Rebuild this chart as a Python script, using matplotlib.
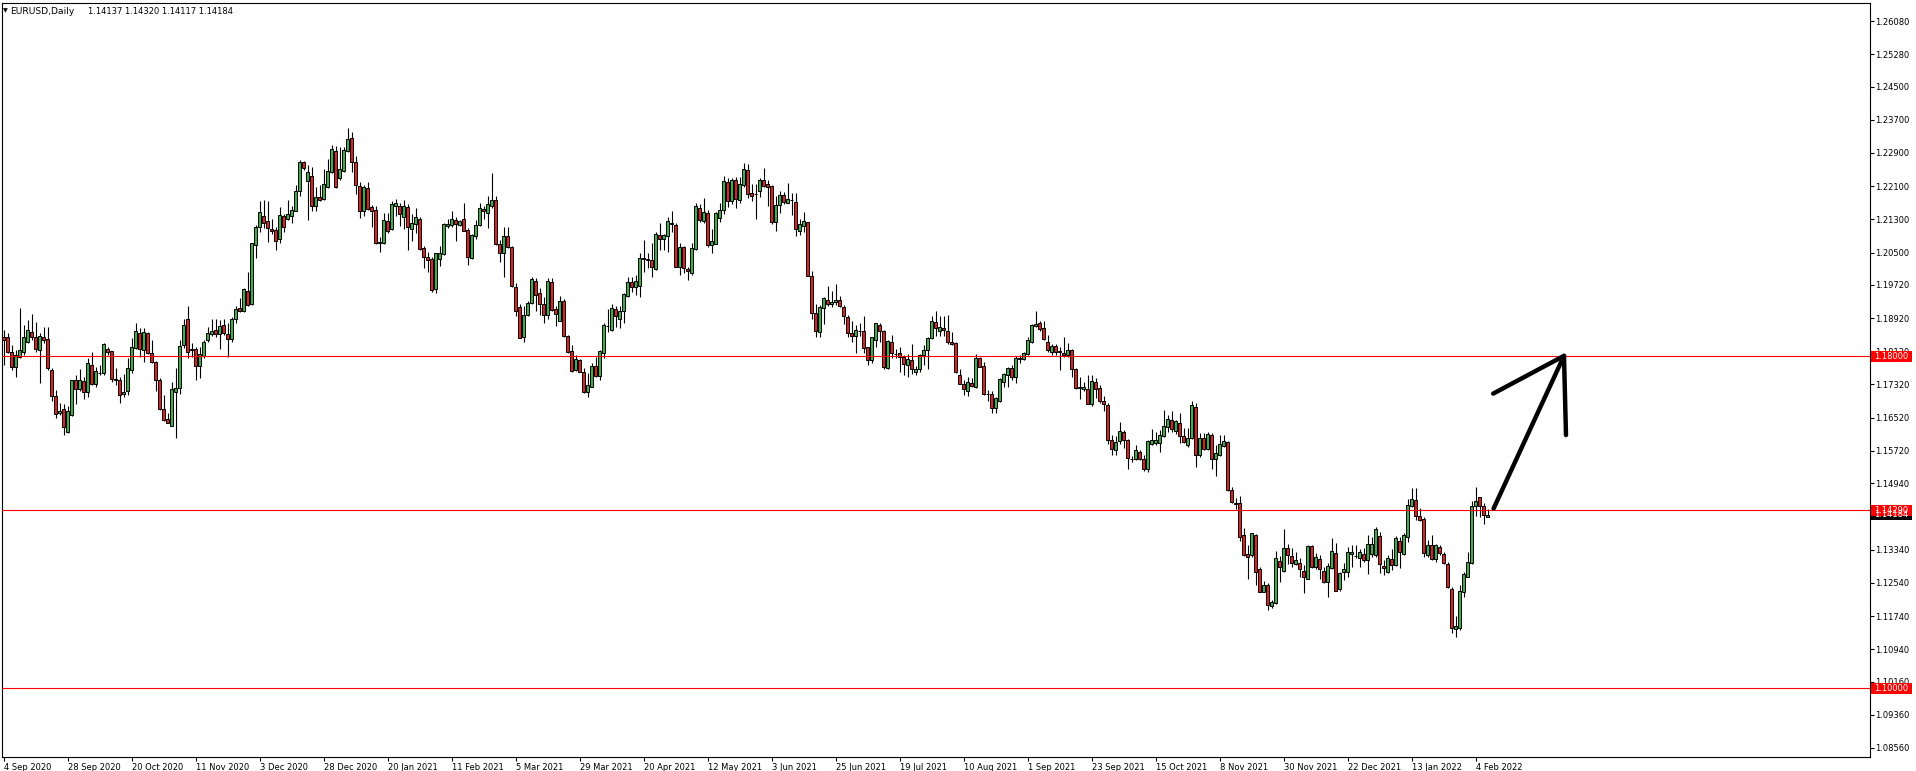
import matplotlib

matplotlib.use("Agg")
import matplotlib.pyplot as plt
from matplotlib.patches import Rectangle
from matplotlib.transforms import blended_transform_factory
import numpy as np
import pandas as pd


OUTPUT_PATH = "out.png"

SYMBOL = "EURUSD,Daily"
LAST_QUOTE = "1.14137 1.14320 1.14117 1.14184"
FIRST_DAY = "2020-09-04"
HOLIDAYS = ["2020-12-25", "2021-01-01"]

OPEN = [
    1.1847, 1.1846, 1.1811, 1.1773, 1.1799, 1.1810, 1.1835, 1.1858, 1.1847, 1.1814,
    1.1846, 1.1841, 1.1767, 1.1705, 1.1663, 1.1672, 1.1618, 1.1659, 1.1742, 1.1720,
    1.1740, 1.1713, 1.1778, 1.1732, 1.1759, 1.1759, 1.1817, 1.1813, 1.1746, 1.1744,
    1.1708, 1.1717, 1.1766, 1.1821, 1.1855, 1.1815, 1.1856, 1.1807, 1.1786, 1.1744,
    1.1674, 1.1649, 1.1633, 1.1713, 1.1723, 1.1826, 1.1889, 1.1818, 1.1817, 1.1777,
    1.1801, 1.1838, 1.1853, 1.1863, 1.1853, 1.1875, 1.1853, 1.1841, 1.1891, 1.1916,
    1.1910, 1.1957, 1.1925, 1.2069, 1.2112, 1.2137, 1.2125, 1.2107, 1.2104, 1.2082,
    1.2137, 1.2132, 1.2139, 1.2151, 1.2198, 1.2267, 1.2223, 1.2235, 1.2161, 1.2183,
    1.2179, 1.2209, 1.2244, 1.2294, 1.2229, 1.2247, 1.2295, 1.2325, 1.2267, 1.2210,
    1.2149, 1.2205, 1.2159, 1.2153, 1.2074, 1.2072, 1.2126, 1.2106, 1.2161, 1.2162,
    1.2135, 1.2159, 1.2106, 1.2118, 1.2130, 1.2060, 1.2040, 1.2034, 1.1961, 1.2035,
    1.2046, 1.2115, 1.2116, 1.2128, 1.2116, 1.2130, 1.2104, 1.2038, 1.2090, 1.2116,
    1.2154, 1.2145, 1.2161, 1.2176, 1.2070, 1.2048, 1.2090, 1.2063, 1.1967, 1.1919,
    1.1846, 1.1899, 1.1928, 1.1982, 1.1952, 1.1925, 1.1900, 1.1978, 1.1913, 1.1886,
    1.1933, 1.1850, 1.1812, 1.1767, 1.1791, 1.1762, 1.1715, 1.1727, 1.1776, 1.1752,
    1.1809, 1.1874, 1.1864, 1.1914, 1.1891, 1.1908, 1.1946, 1.1978, 1.1966, 1.1970,
    1.2036, 1.2034, 1.2032, 1.2010, 1.2092, 1.2083, 1.2089, 1.2121, 1.2116, 1.2016,
    1.2063, 1.2010, 1.2000, 1.2058, 1.2158, 1.2127, 1.2145, 1.2067, 1.2071, 1.2134,
    1.2152, 1.2219, 1.2173, 1.2224, 1.2177, 1.2212, 1.2248, 1.2193, 1.2190, 1.2198,
    1.2224, 1.2215, 1.2210, 1.2124, 1.2164, 1.2189, 1.2170, 1.2176, 1.2171, 1.2103,
    1.2115, 1.2123, 1.1994, 1.1904, 1.1858, 1.1916, 1.1936, 1.1925, 1.1930, 1.1935,
    1.1919, 1.1894, 1.1856, 1.1848, 1.1860, 1.1861, 1.1822, 1.1790, 1.1838, 1.1876,
    1.1861, 1.1772, 1.1834, 1.1806, 1.1808, 1.1798, 1.1778, 1.1791, 1.1761, 1.1769,
    1.1802, 1.1814, 1.1843, 1.1882, 1.1862, 1.1868, 1.1861, 1.1835, 1.1831, 1.1754,
    1.1733, 1.1717, 1.1736, 1.1725, 1.1795, 1.1777, 1.1708, 1.1708, 1.1675, 1.1691,
    1.1739, 1.1754, 1.1771, 1.1751, 1.1793, 1.1794, 1.1805, 1.1835, 1.1874, 1.1880,
    1.1868, 1.1834, 1.1811, 1.1824, 1.1813, 1.1808, 1.1803, 1.1815, 1.1769, 1.1727,
    1.1721, 1.1721, 1.1684, 1.1737, 1.1724, 1.1691, 1.1683, 1.1597, 1.1573, 1.1596,
    1.1617, 1.1597, 1.1552, 1.1553, 1.1569, 1.1552, 1.1529, 1.1588, 1.1592, 1.1592,
    1.1609, 1.1629, 1.1646, 1.1620, 1.1638, 1.1608, 1.1585, 1.1602, 1.1677, 1.1561,
    1.1602, 1.1577, 1.1610, 1.1552, 1.1561, 1.1584, 1.1593, 1.1477, 1.1447, 1.1446,
    1.1369, 1.1324, 1.1320, 1.1370, 1.1287, 1.1233, 1.1248, 1.1197, 1.1205, 1.1307,
    1.1283, 1.1337, 1.1319, 1.1300, 1.1302, 1.1282, 1.1264, 1.1343, 1.1292, 1.1311,
    1.1283, 1.1255, 1.1289, 1.1325, 1.1238, 1.1280, 1.1279, 1.1323, 1.1319, 1.1313,
    1.1323, 1.1308, 1.1324, 1.1321, 1.1367, 1.1295, 1.1281, 1.1311, 1.1297, 1.1355,
    1.1323, 1.1365, 1.1439, 1.1454, 1.1414, 1.1407, 1.1320, 1.1344, 1.1311, 1.1340,
    1.1324, 1.1300, 1.1239, 1.1142, 1.1145, 1.1233, 1.1269, 1.1301, 1.1439, 1.1460,
    1.1439, 1.14137,
]

HIGH = [
    1.1863, 1.1855, 1.1826, 1.1815, 1.1916, 1.1875, 1.1887, 1.1902, 1.1882, 1.1855,
    1.1870, 1.1870, 1.1771, 1.1719, 1.1687, 1.1685, 1.1679, 1.1744, 1.1755, 1.1769,
    1.1749, 1.1797, 1.1811, 1.1775, 1.1779, 1.1833, 1.1823, 1.1813, 1.1771, 1.1751,
    1.1757, 1.1795, 1.1843, 1.1879, 1.1867, 1.1867, 1.1859, 1.1839, 1.1789, 1.1747,
    1.1707, 1.1663, 1.1739, 1.1771, 1.1839, 1.1891, 1.1920, 1.1831, 1.1823, 1.1823,
    1.1839, 1.1870, 1.1891, 1.1891, 1.1887, 1.1891, 1.1880, 1.1895, 1.1920, 1.1940,
    1.1964, 1.2002, 1.2074, 1.2116, 1.2174, 1.2177, 1.2173, 1.2130, 1.2112, 1.2159,
    1.2143, 1.2177, 1.2161, 1.2213, 1.2273, 1.2271, 1.2261, 1.2257, 1.2209, 1.2213,
    1.2251, 1.2275, 1.2309, 1.2307, 1.2305, 1.2305, 1.2349, 1.2341, 1.2283, 1.2221,
    1.2213, 1.2221, 1.2165, 1.2161, 1.2088, 1.2145, 1.2145, 1.2173, 1.2179, 1.2170,
    1.2177, 1.2167, 1.2143, 1.2157, 1.2135, 1.2066, 1.2052, 1.2040, 1.2050, 1.2066,
    1.2120, 1.2132, 1.2151, 1.2136, 1.2128, 1.2170, 1.2108, 1.2095, 1.2128, 1.2170,
    1.2162, 1.2186, 1.2241, 1.2186, 1.2080, 1.2112, 1.2112, 1.2066, 1.1976, 1.1925,
    1.1920, 1.1934, 1.1990, 1.1988, 1.1964, 1.1944, 1.1988, 1.1988, 1.1920, 1.1945,
    1.1937, 1.1851, 1.1827, 1.1803, 1.1793, 1.1771, 1.1759, 1.1783, 1.1799, 1.1815,
    1.1880, 1.1913, 1.1925, 1.1920, 1.1920, 1.1953, 1.1990, 1.1992, 1.1996, 1.2048,
    1.2080, 1.2048, 1.2072, 1.2100, 1.2120, 1.2095, 1.2136, 1.2150, 1.2120, 1.2074,
    1.2066, 1.2014, 1.2074, 1.2170, 1.2168, 1.2181, 1.2153, 1.2107, 1.2147, 1.2169,
    1.2234, 1.2229, 1.2230, 1.2231, 1.2231, 1.2265, 1.2263, 1.2215, 1.2215, 1.2229,
    1.2253, 1.2226, 1.2213, 1.2186, 1.2199, 1.2197, 1.2217, 1.2193, 1.2193, 1.2131,
    1.2148, 1.2124, 1.2006, 1.1926, 1.1924, 1.1942, 1.1969, 1.1957, 1.1974, 1.1945,
    1.1924, 1.1900, 1.1885, 1.1876, 1.1880, 1.1896, 1.1823, 1.1846, 1.1881, 1.1880,
    1.1864, 1.1839, 1.1851, 1.1818, 1.1823, 1.1802, 1.1805, 1.1830, 1.1777, 1.1805,
    1.1827, 1.1847, 1.1896, 1.1909, 1.1896, 1.1896, 1.1900, 1.1858, 1.1835, 1.1769,
    1.1743, 1.1751, 1.1747, 1.1806, 1.1799, 1.1786, 1.1719, 1.1717, 1.1703, 1.1747,
    1.1759, 1.1775, 1.1779, 1.1801, 1.1803, 1.1811, 1.1847, 1.1878, 1.1909, 1.1884,
    1.1884, 1.1851, 1.1830, 1.1829, 1.1823, 1.1846, 1.1831, 1.1817, 1.1771, 1.1751,
    1.1737, 1.1755, 1.1754, 1.1747, 1.1731, 1.1704, 1.1688, 1.1610, 1.1608, 1.1641,
    1.1622, 1.1600, 1.1560, 1.1586, 1.1574, 1.1562, 1.1598, 1.1624, 1.1618, 1.1622,
    1.1671, 1.1658, 1.1667, 1.1646, 1.1664, 1.1626, 1.1626, 1.1692, 1.1688, 1.1614,
    1.1616, 1.1618, 1.1614, 1.1586, 1.1610, 1.1610, 1.1596, 1.1486, 1.1458, 1.1463,
    1.1385, 1.1345, 1.1373, 1.1372, 1.1291, 1.1258, 1.1253, 1.1213, 1.1331, 1.1319,
    1.1383, 1.1347, 1.1337, 1.1328, 1.1313, 1.1297, 1.1345, 1.1345, 1.1325, 1.1321,
    1.1293, 1.1301, 1.1361, 1.1351, 1.1279, 1.1301, 1.1341, 1.1345, 1.1345, 1.1335,
    1.1337, 1.1369, 1.1365, 1.1389, 1.1377, 1.1309, 1.1321, 1.1335, 1.1367, 1.1365,
    1.1373, 1.1455, 1.1482, 1.1482, 1.1434, 1.1412, 1.1356, 1.1369, 1.1347, 1.1345,
    1.1329, 1.1305, 1.1245, 1.1174, 1.1249, 1.1279, 1.1329, 1.1450, 1.1484, 1.1462,
    1.1447, 1.14320,
]

LOW = [
    1.1779, 1.1807, 1.1767, 1.1751, 1.1795, 1.1803, 1.1831, 1.1839, 1.1811, 1.1736,
    1.1831, 1.1767, 1.1691, 1.1651, 1.1659, 1.1611, 1.1614, 1.1656, 1.1684, 1.1716,
    1.1696, 1.1703, 1.1731, 1.1725, 1.1755, 1.1755, 1.1803, 1.1739, 1.1731, 1.1687,
    1.1703, 1.1707, 1.1759, 1.1817, 1.1799, 1.1785, 1.1805, 1.1783, 1.1717, 1.1671,
    1.1644, 1.1640, 1.1632, 1.1602, 1.1709, 1.1819, 1.1795, 1.1799, 1.1744, 1.1747,
    1.1797, 1.1835, 1.1849, 1.1847, 1.1817, 1.1851, 1.1799, 1.1835, 1.1881, 1.1906,
    1.1907, 1.1920, 1.1923, 1.2038, 1.2100, 1.2108, 1.2076, 1.2095, 1.2056, 1.2072,
    1.2100, 1.2128, 1.2120, 1.2149, 1.2186, 1.2249, 1.2128, 1.2151, 1.2151, 1.2175,
    1.2177, 1.2206, 1.2241, 1.2206, 1.2225, 1.2245, 1.2293, 1.2243, 1.2191, 1.2133,
    1.2137, 1.2153, 1.2111, 1.2071, 1.2052, 1.2071, 1.2096, 1.2104, 1.2137, 1.2114,
    1.2106, 1.2056, 1.2079, 1.2096, 1.2056, 1.2012, 1.2002, 1.1956, 1.1952, 1.2018,
    1.2043, 1.2108, 1.2112, 1.2079, 1.2114, 1.2102, 1.2021, 1.2034, 1.2083, 1.2114,
    1.2132, 1.2108, 1.2157, 1.2069, 1.2026, 1.1990, 1.2060, 1.1968, 1.1897, 1.1844,
    1.1835, 1.1897, 1.1926, 1.1908, 1.1900, 1.1881, 1.1889, 1.1908, 1.1872, 1.1885,
    1.1847, 1.1807, 1.1761, 1.1765, 1.1761, 1.1712, 1.1703, 1.1725, 1.1751, 1.1743,
    1.1795, 1.1859, 1.1862, 1.1870, 1.1867, 1.1880, 1.1943, 1.1956, 1.1948, 1.1942,
    1.2004, 1.2012, 1.1992, 1.2008, 1.2055, 1.2055, 1.2052, 1.2100, 1.2015, 1.1996,
    1.2000, 1.1984, 1.1996, 1.2056, 1.2124, 1.2122, 1.2064, 1.2050, 1.2070, 1.2124,
    1.2144, 1.2159, 1.2166, 1.2158, 1.2170, 1.2207, 1.2181, 1.2173, 1.2132, 1.2183,
    1.2209, 1.2163, 1.2118, 1.2103, 1.2145, 1.2167, 1.2169, 1.2141, 1.2091, 1.2092,
    1.2100, 1.1994, 1.1890, 1.1846, 1.1847, 1.1878, 1.1920, 1.1918, 1.1923, 1.1918,
    1.1877, 1.1846, 1.1835, 1.1807, 1.1848, 1.1807, 1.1779, 1.1783, 1.1823, 1.1835,
    1.1770, 1.1770, 1.1795, 1.1795, 1.1763, 1.1754, 1.1751, 1.1757, 1.1754, 1.1762,
    1.1779, 1.1769, 1.1841, 1.1849, 1.1849, 1.1849, 1.1830, 1.1828, 1.1759, 1.1733,
    1.1707, 1.1705, 1.1725, 1.1723, 1.1774, 1.1707, 1.1693, 1.1664, 1.1663, 1.1689,
    1.1727, 1.1725, 1.1743, 1.1735, 1.1783, 1.1791, 1.1803, 1.1831, 1.1870, 1.1860,
    1.1838, 1.1811, 1.1803, 1.1803, 1.1767, 1.1799, 1.1798, 1.1749, 1.1721, 1.1698,
    1.1717, 1.1684, 1.1681, 1.1699, 1.1687, 1.1667, 1.1589, 1.1562, 1.1562, 1.1588,
    1.1580, 1.1528, 1.1546, 1.1550, 1.1549, 1.1524, 1.1522, 1.1585, 1.1586, 1.1570,
    1.1606, 1.1618, 1.1618, 1.1613, 1.1590, 1.1590, 1.1582, 1.1600, 1.1534, 1.1558,
    1.1574, 1.1573, 1.1528, 1.1512, 1.1560, 1.1582, 1.1475, 1.1446, 1.1432, 1.1355,
    1.1319, 1.1263, 1.1317, 1.1249, 1.1231, 1.1231, 1.1189, 1.1194, 1.1202, 1.1257,
    1.1281, 1.1299, 1.1293, 1.1297, 1.1269, 1.1229, 1.1263, 1.1289, 1.1288, 1.1263,
    1.1253, 1.1221, 1.1287, 1.1235, 1.1235, 1.1261, 1.1267, 1.1293, 1.1313, 1.1291,
    1.1305, 1.1275, 1.1317, 1.1316, 1.1277, 1.1273, 1.1277, 1.1284, 1.1295, 1.1289,
    1.1321, 1.1353, 1.1436, 1.1406, 1.1402, 1.1316, 1.1317, 1.1308, 1.1305, 1.1321,
    1.1299, 1.1241, 1.1132, 1.1123, 1.1141, 1.1221, 1.1267, 1.1300, 1.1414, 1.1412,
    1.1396, 1.14117,
]

CLOSE = [
    1.1838, 1.1811, 1.1773, 1.1802, 1.1815, 1.1846, 1.1863, 1.1846, 1.1817, 1.1849,
    1.1838, 1.1771, 1.1705, 1.1660, 1.1668, 1.1630, 1.1668, 1.1743, 1.1720, 1.1744,
    1.1714, 1.1783, 1.1732, 1.1765, 1.1760, 1.1830, 1.1811, 1.1745, 1.1743, 1.1706,
    1.1713, 1.1771, 1.1822, 1.1860, 1.1818, 1.1859, 1.1809, 1.1785, 1.1743, 1.1674,
    1.1647, 1.1640, 1.1721, 1.1724, 1.1825, 1.1875, 1.1811, 1.1814, 1.1777, 1.1805,
    1.1834, 1.1855, 1.1861, 1.1853, 1.1873, 1.1856, 1.1841, 1.1891, 1.1914, 1.1910,
    1.1962, 1.1924, 1.2072, 1.2112, 1.2147, 1.2120, 1.2108, 1.2103, 1.2079, 1.2140,
    1.2111, 1.2142, 1.2153, 1.2198, 1.2267, 1.2253, 1.2243, 1.2161, 1.2185, 1.2177,
    1.2214, 1.2247, 1.2299, 1.2209, 1.2251, 1.2296, 1.2323, 1.2267, 1.2213, 1.2149,
    1.2207, 1.2155, 1.2151, 1.2074, 1.2075, 1.2128, 1.2103, 1.2166, 1.2169, 1.2143,
    1.2161, 1.2111, 1.2120, 1.2135, 1.2059, 1.2040, 1.2033, 1.1960, 1.2048, 1.2048,
    1.2118, 1.2119, 1.2130, 1.2119, 1.2126, 1.2103, 1.2040, 1.2092, 1.2116, 1.2157,
    1.2149, 1.2167, 1.2176, 1.2070, 1.2048, 1.2090, 1.2063, 1.1970, 1.1908, 1.1845,
    1.1899, 1.1928, 1.1986, 1.1948, 1.1926, 1.1900, 1.1982, 1.1912, 1.1902, 1.1933,
    1.1850, 1.1810, 1.1765, 1.1794, 1.1762, 1.1715, 1.1730, 1.1776, 1.1752, 1.1812,
    1.1876, 1.1873, 1.1916, 1.1898, 1.1910, 1.1950, 1.1978, 1.1966, 1.1981, 1.2036,
    1.2034, 1.2031, 1.2014, 1.2095, 1.2083, 1.2092, 1.2125, 1.2118, 1.2016, 1.2063,
    1.2012, 1.2005, 1.2062, 1.2161, 1.2128, 1.2147, 1.2068, 1.2078, 1.2145, 1.2152,
    1.2222, 1.2173, 1.2226, 1.2178, 1.2215, 1.2251, 1.2190, 1.2187, 1.2191, 1.2224,
    1.2211, 1.2209, 1.2124, 1.2164, 1.2188, 1.2171, 1.2178, 1.2176, 1.2106, 1.2118,
    1.2125, 1.1994, 1.1905, 1.1862, 1.1918, 1.1940, 1.1925, 1.1930, 1.1935, 1.1922,
    1.1896, 1.1856, 1.1848, 1.1863, 1.1860, 1.1821, 1.1790, 1.1846, 1.1879, 1.1860,
    1.1775, 1.1837, 1.1809, 1.1806, 1.1798, 1.1781, 1.1794, 1.1770, 1.1770, 1.1802,
    1.1815, 1.1843, 1.1884, 1.1867, 1.1871, 1.1864, 1.1835, 1.1830, 1.1761, 1.1734,
    1.1720, 1.1737, 1.1729, 1.1796, 1.1775, 1.1708, 1.1708, 1.1676, 1.1699, 1.1745,
    1.1758, 1.1771, 1.1751, 1.1796, 1.1795, 1.1807, 1.1839, 1.1875, 1.1878, 1.1865,
    1.1841, 1.1814, 1.1824, 1.1810, 1.1810, 1.1804, 1.1815, 1.1769, 1.1723, 1.1724,
    1.1725, 1.1685, 1.1740, 1.1721, 1.1693, 1.1685, 1.1597, 1.1576, 1.1593, 1.1619,
    1.1597, 1.1556, 1.1552, 1.1573, 1.1553, 1.1529, 1.1596, 1.1598, 1.1598, 1.1610,
    1.1631, 1.1650, 1.1625, 1.1643, 1.1609, 1.1594, 1.1602, 1.1682, 1.1561, 1.1602,
    1.1577, 1.1613, 1.1552, 1.1567, 1.1588, 1.1596, 1.1477, 1.1448, 1.1443, 1.1365,
    1.1321, 1.1317, 1.1373, 1.1281, 1.1233, 1.1249, 1.1200, 1.1207, 1.1313, 1.1292,
    1.1337, 1.1320, 1.1301, 1.1308, 1.1287, 1.1269, 1.1343, 1.1293, 1.1316, 1.1287,
    1.1257, 1.1295, 1.1330, 1.1235, 1.1277, 1.1287, 1.1328, 1.1328, 1.1319, 1.1328,
    1.1308, 1.1347, 1.1348, 1.1384, 1.1299, 1.1289, 1.1313, 1.1297, 1.1361, 1.1328,
    1.1369, 1.1441, 1.1455, 1.1414, 1.1406, 1.1327, 1.1344, 1.1311, 1.1345, 1.1325,
    1.1301, 1.1243, 1.1145, 1.1149, 1.1235, 1.1275, 1.1304, 1.1439, 1.1451, 1.1439,
    1.1417, 1.14184,
]

DATE_LABELS = [
    "4 Sep 2020", "28 Sep 2020", "20 Oct 2020", "11 Nov 2020", "3 Dec 2020",
    "28 Dec 2020", "20 Jan 2021", "11 Feb 2021", "5 Mar 2021", "29 Mar 2021",
    "20 Apr 2021", "12 May 2021", "3 Jun 2021", "25 Jun 2021", "19 Jul 2021",
    "10 Aug 2021", "1 Sep 2021", "23 Sep 2021", "15 Oct 2021", "8 Nov 2021",
    "30 Nov 2021", "22 Dec 2021", "13 Jan 2022", "4 Feb 2022",
]

PRICE_TICKS = [
    1.26080, 1.25280, 1.24500, 1.23700, 1.22900, 1.22100, 1.21300, 1.20500,
    1.19720, 1.18920, 1.18120, 1.17320, 1.16520, 1.15720, 1.14940, 1.14140,
    1.13340, 1.12540, 1.11740, 1.10940, 1.10160, 1.09360, 1.08560,
]

LEVELS = [1.18000, 1.14290, 1.10000]

# hand drawn arrow, in bar index / price units
ARROW_SHAFT_X = [372.5, 390.1, 390.6]
ARROW_SHAFT_Y = [1.1433, 1.1801, 1.1610]
ARROW_WING_X = [372.4, 390.1]
ARROW_WING_Y = [1.1710, 1.1801]

BULL = "#3cb043"
BEAR = "#e0201b"

FIG_W, FIG_H = 1916, 771
AX_LEFT, AX_RIGHT, AX_TOP, AX_BOTTOM = 2, 1870, 3, 757
Y_MIN, Y_MAX = 1.08342, 1.26514
X_MIN, X_MAX = -0.375, 466.6


def main():
    o = np.array(OPEN)
    h = np.array(HIGH)
    l = np.array(LOW)
    c = np.array(CLOSE)
    n = len(c)
    x = np.arange(n)

    dates = pd.bdate_range(FIRST_DAY, periods=n, freq="C", holidays=HOLIDAYS)
    tick_pos = dates.get_indexer(pd.to_datetime(DATE_LABELS, format="%d %b %Y"))

    fig = plt.figure(figsize=(FIG_W / 100, FIG_H / 100), dpi=100)
    ax = fig.add_axes([
        AX_LEFT / FIG_W,
        1 - AX_BOTTOM / FIG_H,
        (AX_RIGHT - AX_LEFT) / FIG_W,
        (AX_BOTTOM - AX_TOP) / FIG_H,
    ])
    ax.set_xlim(X_MIN, X_MAX)
    ax.set_ylim(Y_MIN, Y_MAX)

    up = c >= o
    ax.vlines(x, l, h, color="black", linewidth=0.8, zorder=2)
    body = np.maximum(np.abs(c - o), 0.00002)
    ax.bar(
        x, body, bottom=np.minimum(o, c), width=0.8,
        color=np.where(up, BULL, BEAR), edgecolor="black", linewidth=0.7,
        zorder=3,
    )

    for level in LEVELS:
        ax.axhline(level, color="#ff0000", linewidth=0.8, zorder=4)

    ax.plot(ARROW_SHAFT_X, ARROW_SHAFT_Y, color="black", linewidth=3.2,
            solid_capstyle="round", solid_joinstyle="round", zorder=5)
    ax.plot(ARROW_WING_X, ARROW_WING_Y, color="black", linewidth=3.2,
            solid_capstyle="round", zorder=5)

    ax.yaxis.tick_right()
    ax.set_yticks(PRICE_TICKS)
    ax.set_yticklabels([f"{v:.5f}" for v in PRICE_TICKS])
    ax.set_xticks(tick_pos)
    ax.set_xticklabels(DATE_LABELS, ha="left")
    ax.tick_params(axis="both", direction="out", length=3, width=0.8,
                   labelsize=6, pad=1, colors="black")
    for spine in ax.spines.values():
        spine.set_linewidth(0.8)
        spine.set_color("black")

    # price tags on the right scale
    trans = blended_transform_factory(ax.transAxes, ax.transData)
    px = 1 / (AX_RIGHT - AX_LEFT)
    py = (Y_MAX - Y_MIN) / (AX_BOTTOM - AX_TOP)
    tags = [(c[-1], "black")] + [(v, "#ff0000") for v in LEVELS]
    for value, face in tags:
        ax.add_patch(Rectangle(
            (1 + 1 * px, value - 5.5 * py), 41 * px, 11 * py,
            transform=trans, facecolor=face, edgecolor="none",
            clip_on=False, zorder=6,
        ))
        ax.text(1 + 4 * px, value, f"{value:.5f}", transform=trans,
                color="white", fontsize=6, ha="left", va="center",
                clip_on=False, zorder=7)

    fig.text(3 / FIG_W, 1 - 11 / FIG_H, "\u25bc", fontsize=4.5,
             ha="left", va="center")
    fig.text(10 / FIG_W, 1 - 11 / FIG_H, SYMBOL, fontsize=6.6,
             ha="left", va="center")
    fig.text(88 / FIG_W, 1 - 11 / FIG_H, LAST_QUOTE, fontsize=6,
             ha="left", va="center")

    fig.savefig(OUTPUT_PATH, dpi=100)
    plt.close(fig)


if __name__ == "__main__":
    main()
